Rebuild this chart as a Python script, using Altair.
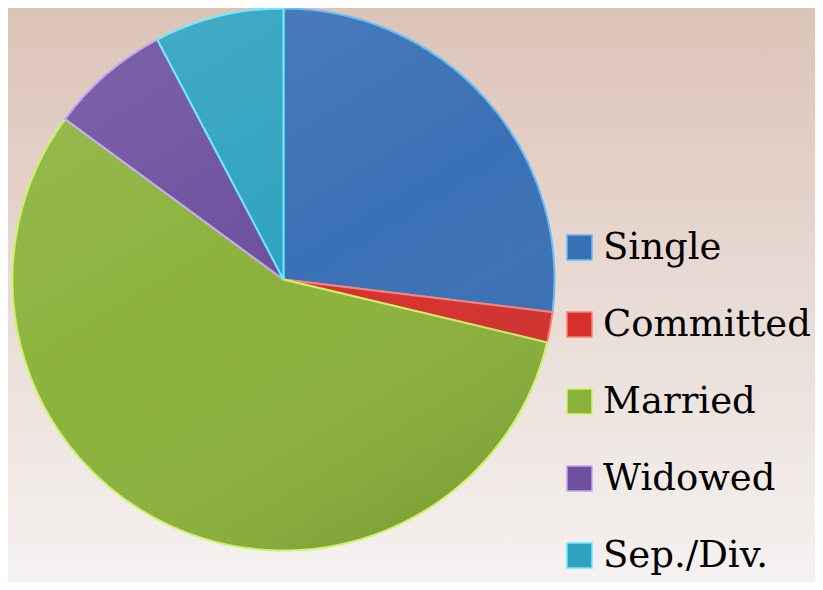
import altair as alt
import pandas as pd

categories = ["Single", "Committed", "Married", "Widowed", "Sep./Div."]
shares = [26.9, 1.8, 56.3, 7.2, 7.7]
fill_colors = ["#3a70b6", "#d6302c", "#8bb23b", "#6e509e", "#2fa2c0"]
edge_colors = ["#66bdf7", "#ff8076", "#cdf266", "#c4a4f2", "#66ecff"]

W, H = 807, 574
CX, CY, R = 275.5, 271.5, 271

df = pd.DataFrame({"status": categories, "share": shares, "idx": list(range(len(categories)))})

backdrop = (
    alt.Chart(pd.DataFrame({"a": [0]}))
    .mark_rect(
        fill=alt.Gradient(
            gradient="linear",
            x1=0, y1=0, x2=0, y2=1,
            stops=[
                alt.GradientStop(offset=0, color="#dcc3b7"),
                alt.GradientStop(offset=1, color="#f5f2f1"),
            ],
        )
    )
    .encode(x=alt.value(0), x2=alt.value(W), y=alt.value(0), y2=alt.value(H))
)

pie = (
    alt.Chart(df)
    .mark_arc(radius=R, strokeWidth=2)
    .encode(
        theta=alt.Theta("share:Q", stack=True),
        order=alt.Order("idx:Q"),
        x=alt.value(CX),
        y=alt.value(CY),
        color=alt.Color(
            "status:N",
            sort=categories,
            scale=alt.Scale(domain=categories, range=fill_colors),
            legend=alt.Legend(
                title=None,
                orient="none",
                legendX=553,
                legendY=221,
                symbolType="square",
                symbolSize=625,
                symbolStrokeWidth=1.5,
                labelFont="DejaVu Serif",
                labelFontSize=37,
                labelColor="#000000",
                labelOffset=5,
                rowPadding=39,
                padding=0,
                labelLimit=400,
            ),
        ),
        stroke=alt.Stroke(
            "status:N",
            sort=categories,
            scale=alt.Scale(domain=categories, range=edge_colors),
            legend=None,
        ),
    )
)

shade = (
    alt.Chart(pd.DataFrame({"a": [0]}))
    .mark_arc(
        radius=R - 1,
        theta=0,
        theta2=6.2832,
        fill=alt.Gradient(
            gradient="linear",
            x1=0.2, y1=0, x2=0.8, y2=1,
            stops=[
                alt.GradientStop(offset=0, color="rgba(255,255,255,0.10)"),
                alt.GradientStop(offset=0.5, color="rgba(255,255,255,0.0)"),
                alt.GradientStop(offset=1, color="rgba(0,0,0,0.12)"),
            ],
        ),
    )
    .encode(x=alt.value(CX), y=alt.value(CY))
)

chart = (
    alt.layer(backdrop, pie, shade)
    .properties(width=W, height=H, padding=0, autosize=alt.AutoSizeParams(type="none"))
    .configure_view(stroke=None)
    .configure(background="#ece2dd")
)

chart.save("out.html", embed_options={"renderer": "svg", "actions": False})
